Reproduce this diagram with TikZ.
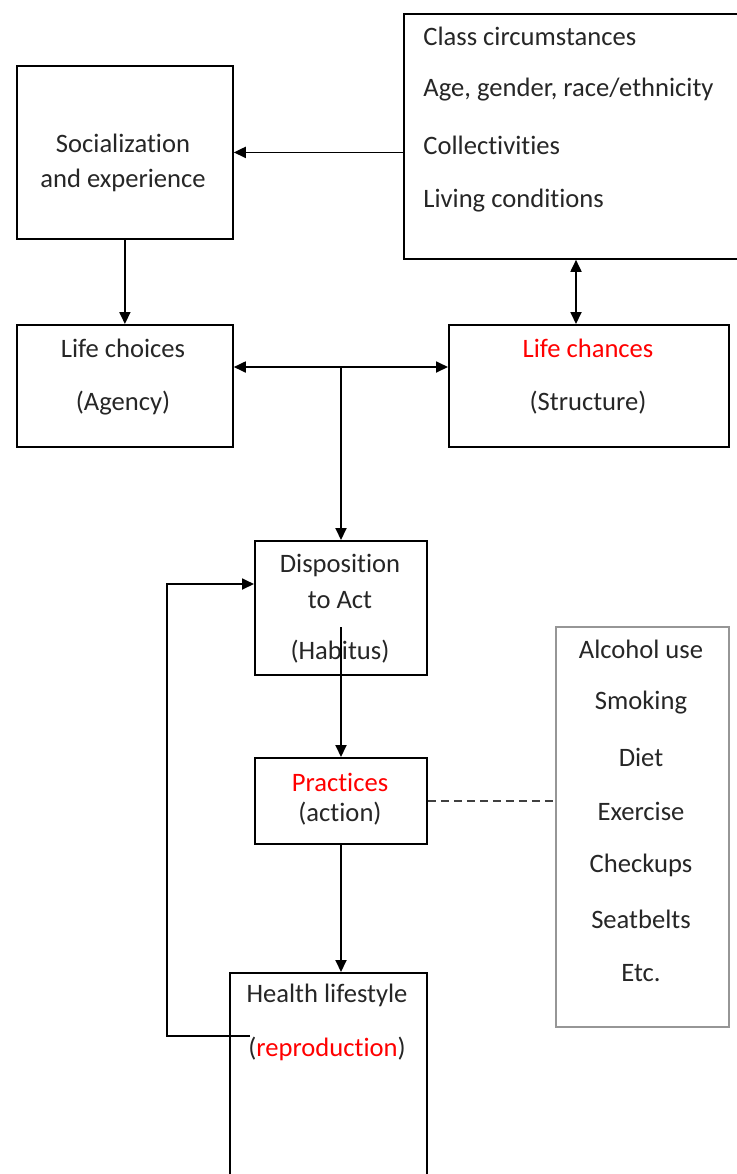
\documentclass[tikz,border=0pt]{standalone}
\usepackage{fontspec}
\setmainfont{Carlito}[Ligatures={NoCommon}]
\usetikzlibrary{arrows.meta}
\definecolor{boxgray}{RGB}{150,150,150}
\definecolor{hotred}{RGB}{255,0,0}
\tikzset{
	box/.style={draw, line width=0.9pt, anchor=north west, inner sep=0pt},
	txt/.style={font=\fontsize{13.3}{15}\selectfont, inner sep=0pt, text=black!85},
	arr/.style={line width=0.9pt, -{Triangle[length=6pt,width=5.5pt]}},
	darr/.style={line width=0.9pt, {Triangle[length=6pt,width=5.5pt]}-{Triangle[length=6pt,width=5.5pt]}},
}
\begin{document}
\begin{tikzpicture}[x=0.5pt,y=-0.5pt]
	\useasboundingbox (0,0) rectangle (737,1174);
	% boxes
	\node[box, minimum width=170pt, minimum height=122.5pt] (cls) at (403,13) {};
	\node[box, minimum width=108pt, minimum height=86.5pt] (soc) at (16,65) {};
	\node[box, minimum width=108pt, minimum height=61pt] (choices) at (16,324) {};
	\node[box, minimum width=140pt, minimum height=61pt] (chances) at (448,324) {};
	\node[box, minimum width=86pt, minimum height=67pt] (disp) at (254,540) {};
	\node[box, minimum width=86pt, minimum height=43pt] (prac) at (254,757) {};
	\node[box, minimum width=98.5pt, minimum height=115pt] (health) at (229,972) {};
	\node[box, draw=boxgray, minimum width=86.5pt, minimum height=200pt] (habits) at (555,626) {};
	% texts
	\node[txt, anchor=west] (cls1) at (423,36) {Class circumstances};
	\node[txt, anchor=west] (cls2) at (423,90) {Age, gender, race/ethnicity};
	\node[txt, anchor=west] (cls3) at (423,145) {Collectivities};
	\node[txt, anchor=west] (cls4) at (423,201) {Living conditions};
	\node[txt] (soc1) at (123,143) {Socialization};
	\node[txt] (soc2) at (123,180) {and experience};
	\node[txt] (choices1) at (123,348) {Life choices};
	\node[txt] (choices2) at (123,403) {(Agency)};
	\node[txt, text=hotred] (chances1) at (588,348) {Life chances};
	\node[txt] (chances2) at (588,403) {(Structure)};
	\node[txt] (disp1) at (340,565) {Disposition};
	\node[txt] (disp2) at (340,600) {to Act};
	\node[txt] (disp3) at (340,652) {(Habitus)};
	\node[txt, text=hotred] (prac1) at (340,782) {Practices};
	\node[txt] (prac2) at (340,814) {(action)};
	\node[txt] (health1) at (327,995) {Health lifestyle};
	\node[txt] (health2) at (327,1049) {(\textcolor{hotred}{reproduction})};
	\foreach \item [count=\i] in {Alcohol use, Smoking, Diet, Exercise, Checkups, Seatbelts, Etc.}
		\node[txt] (hab\i) at (641,595+54*\i) {\item};
	% connectors
	\coordinate (tee) at (341,367);
	\coordinate (updown) at (576,0);
	\coordinate (habstart) at (341,627);
	\coordinate (loopend) at (250,1036);
	\coordinate (loopbend) at (167,584);
	\draw[arr] (cls.west |- soc.east) -- (soc.east);
	\draw[arr] (soc.south) -- (choices.north);
	\draw[darr] (choices.east |- tee) -- (chances.west |- tee);
	\draw[arr] (tee) -- (tee |- disp.north);
	\draw[darr] (cls.south -| updown) -- (chances.north -| updown);
	\draw[arr] (habstart) -- (habstart |- prac.north);
	\draw[arr] (prac.south -| habstart) -- (habstart |- health.north);
	\draw[dashed, line width=0.6pt, black!75, dash pattern=on 4pt off 2.5pt] (prac.east) -- (habits.west |- prac.east);
	\draw[arr] (loopend) -| (loopbend) -- (disp.west |- loopbend);
\end{tikzpicture}
\end{document}
